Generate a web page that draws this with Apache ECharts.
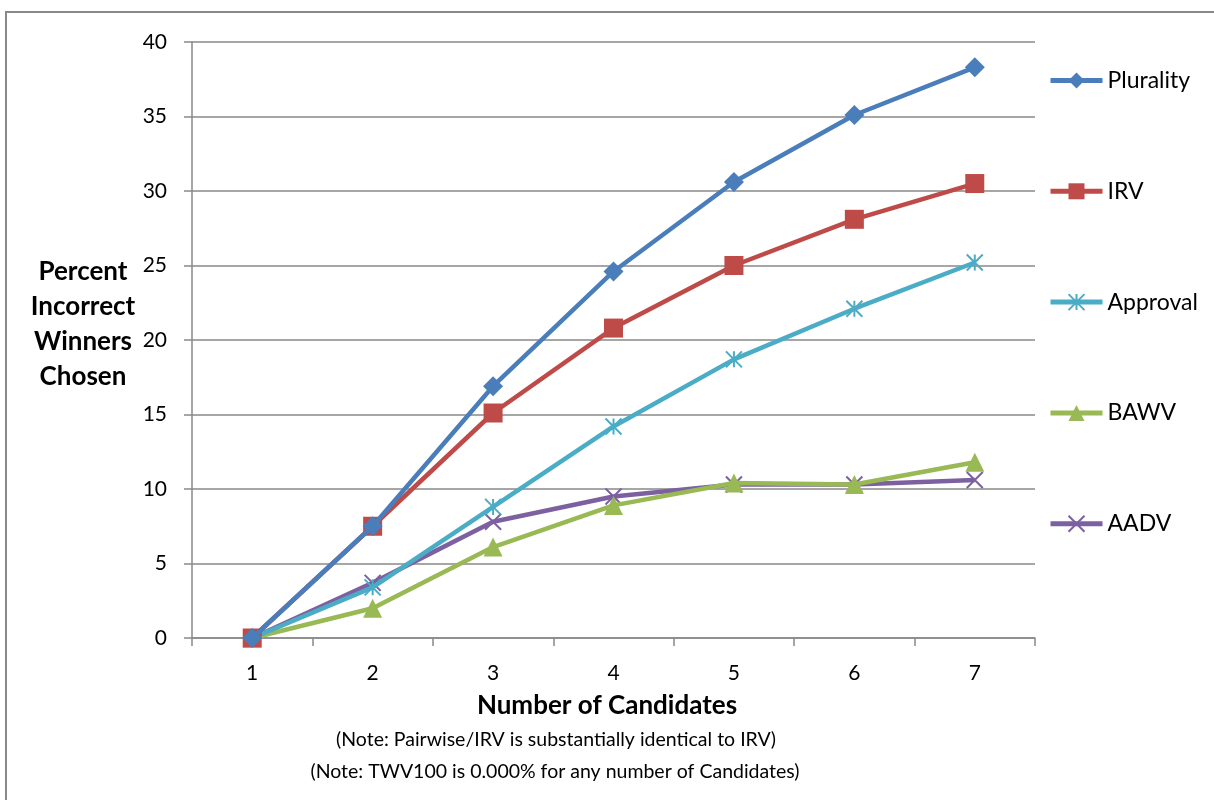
<!DOCTYPE html>
<html><head><meta charset="utf-8">
<script src="https://cdn.jsdelivr.net/npm/echarts@6/dist/echarts.min.js"></script>
<style>html,body{margin:0;padding:0;background:#fff}#c{width:1214px;height:800px}</style>
</head><body><div id="c"></div>
<script>
const categories = ['1','2','3','4','5','6','7'];
const plurality = [0, 7.5, 16.9, 24.6, 30.6, 35.1, 38.3];
const irv       = [0, 7.5, 15.1, 20.8, 25.0, 28.1, 30.5];
const approval  = [0, 3.4, 8.8, 14.2, 18.7, 22.1, 25.2];
const bawv      = [0, 2.0, 6.1, 8.9, 10.4, 10.3, 11.8];
const aadv      = [0, 3.7, 7.8, 9.5, 10.3, 10.3, 10.6];
const seriesNames = ['Plurality','IRV','Approval','BAWV','AADV'];
const yTitle = 'Percent\nIncorrect\nWinners\nChosen';
const xTitle = 'Number of Candidates';
const notes = ['(Note: Pairwise/IRV is substantially identical to IRV)', '(Note: TWV100 is 0.000% for any number of Candidates)'];

const FONT = 'Lato';
const ASTER = 'path://M5,0L5,10M0,0L10,10M0,10L10,0';
const XMARK = 'path://M0,0L10,10M0,10L10,0';
const cfg = [
  {data: plurality, color: '#4a7ebb', symbol: 'diamond', size: 20},
  {data: irv, color: '#be4b48', symbol: 'rect', size: 19},
  {data: approval, color: '#4bacc6', symbol: ASTER, size: 16, stroke: true},
  {data: bawv, color: '#98b954', symbol: 'triangle', size: 19},
  {data: aadv, color: '#7d60a0', symbol: XMARK, size: 16, stroke: true}
];
const chart = echarts.init(document.getElementById('c'));
chart.setOption({
  backgroundColor: '#fff',
  animation: false,
  grid: {left: 192, right: 179, top: 42, bottom: 162},
  legend: {
    orient: 'vertical', left: 1048, top: 69, padding: 0, itemWidth: 52, itemHeight: 20, itemGap: 87.8,
    data: seriesNames,
    lineStyle: {width: 5},
    textStyle: {fontFamily: FONT, fontSize: 23, color: '#000'}
  },
  xAxis: {
    type: 'category', data: categories, boundaryGap: true,
    axisLine: {lineStyle: {color: '#898989', width: 1.5}},
    axisTick: {show: true, length: 8, lineStyle: {color: '#898989', width: 1.5}},
    axisLabel: {fontFamily: FONT, fontSize: 21, color: '#000', margin: 25}
  },
  yAxis: {
    type: 'value', min: 0, max: 40, interval: 5,
    axisLine: {show: true, lineStyle: {color: '#898989', width: 1.5}},
    axisTick: {show: true, length: 8, lineStyle: {color: '#898989', width: 1.5}},
    axisLabel: {fontFamily: FONT, fontSize: 21, color: '#000', margin: 25},
    splitLine: {lineStyle: {color: '#898989', width: 1.5}}
  },
  series: cfg.map((c, i) => ({
    name: seriesNames[i], type: 'line', data: c.data,
    symbol: c.symbol, symbolSize: c.size,
    lineStyle: {color: c.color, width: 4.5},
    itemStyle: c.stroke ? {color: c.color, borderColor: c.color, borderWidth: 2} : {color: c.color, borderWidth: 0},
    z: 10 - i
  })),
  graphic: [
    {type: 'rect', shape: {x: 6, y: 12, width: 1400, height: 1000}, style: {fill: 'none', stroke: '#898989', lineWidth: 2}, silent: true, z: -10},
    {type: 'text', style: {text: yTitle, x: 83, y: 324, textAlign: 'center', textVerticalAlign: 'middle', font: 'bold 26px ' + FONT, lineHeight: 35, fill: '#000'}},
    {type: 'text', style: {text: xTitle, x: 607, y: 706, textAlign: 'center', textVerticalAlign: 'middle', font: 'bold 26px ' + FONT, fill: '#000'}},
    {type: 'text', style: {text: notes[0], x: 556, y: 740, textAlign: 'center', textVerticalAlign: 'middle', font: '19.5px ' + FONT, fill: '#000'}},
    {type: 'text', style: {text: notes[1], x: 555, y: 772, textAlign: 'center', textVerticalAlign: 'middle', font: '19.5px ' + FONT, fill: '#000'}}
  ]
});
</script></body></html>
